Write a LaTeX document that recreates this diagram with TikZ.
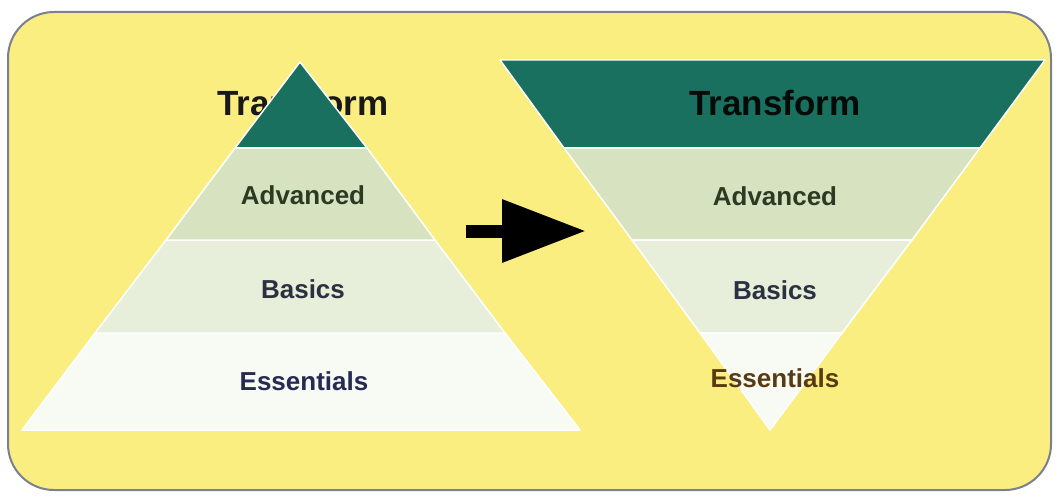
\documentclass[tikz,border=0pt]{standalone}
\usepackage{fontspec}
\setmainfont{Liberation Sans}
\usetikzlibrary{arrows.meta}
\definecolor{bgyellow}{HTML}{F9EE7F}
\definecolor{frame}{HTML}{7A8090}
\definecolor{teal1}{HTML}{19705F}
\definecolor{bandA}{HTML}{D7E3C0}
\definecolor{bandB}{HTML}{E7EEDA}
\definecolor{bandC}{HTML}{F8FAF4}
\definecolor{txtA}{HTML}{2B3A22}
\definecolor{txtB}{HTML}{2C3142}
\definecolor{txtC}{HTML}{272A52}
\definecolor{txtD}{HTML}{5A3A12}
\tikzset{
  band/.style={draw=white, line width=1.5pt, line join=round},
  lbl/.style={font=\bfseries\fontsize{26}{30}\selectfont, inner sep=0pt},
  ttlb/.style={font=\bfseries\fontsize{35}{40}\selectfont, inner sep=0pt}
}
\begin{document}
\begin{tikzpicture}[x=1pt,y=-1pt]
\useasboundingbox (0,0) rectangle (1059,497);
\fill[white] (0,0) rectangle (1059,497);
% frame
\draw[fill=bgyellow, draw=frame, line width=2pt, rounded corners=46pt] (8,12) rectangle (1051,490);

% left pyramid (text first, then the teal tip covers it)
\node[ttlb, text=black!90] (ltr) at (303,103) {Transform};
\fill[band, fill=bandC] (95,333) -- (505,333) -- (580,430) -- (22,430) -- cycle;
\draw[band, fill=bandB] (166,240) -- (435,240) -- (505,333) -- (95,333) -- cycle;
\draw[band, fill=bandA] (235,148) -- (367,148) -- (435,240) -- (166,240) -- cycle;
\draw[band, fill=teal1] (300,62) -- (367,148) -- (235,148) -- cycle;
\node[lbl, text=txtA] (ladv) at (303,195) {Advanced};
\node[lbl, text=txtB] (lbas) at (303,289) {Basics};
\node[lbl, text=txtC] (less) at (304,381) {Essentials};

% right inverted pyramid
\draw[band, fill=teal1] (500,60) -- (1045,60) -- (980,148) -- (564,148) -- cycle;
\draw[band, fill=bandA] (564,148) -- (980,148) -- (912,240) -- (632,240) -- cycle;
\draw[band, fill=bandB] (632,240) -- (912,240) -- (842,333) -- (700,333) -- cycle;
\draw[band, fill=bandC] (700,333) -- (842,333) -- (770,430) -- cycle;
\node[ttlb, text=black!90!teal1] (rtr) at (775,103) {Transform};
\node[lbl, text=txtA] (radv) at (775,196) {Advanced};
\node[lbl, text=txtB] (rbas) at (775,290) {Basics};
\node[lbl, text=txtD] (ress) at (775,378) {Essentials};

% arrow
\coordinate (as) at (466,231);
\coordinate (ae) at (586,231);
\draw[line width=13pt, -{Triangle[length=84pt,width=60pt]}] (as) -- (ae);
\end{tikzpicture}
\end{document}
